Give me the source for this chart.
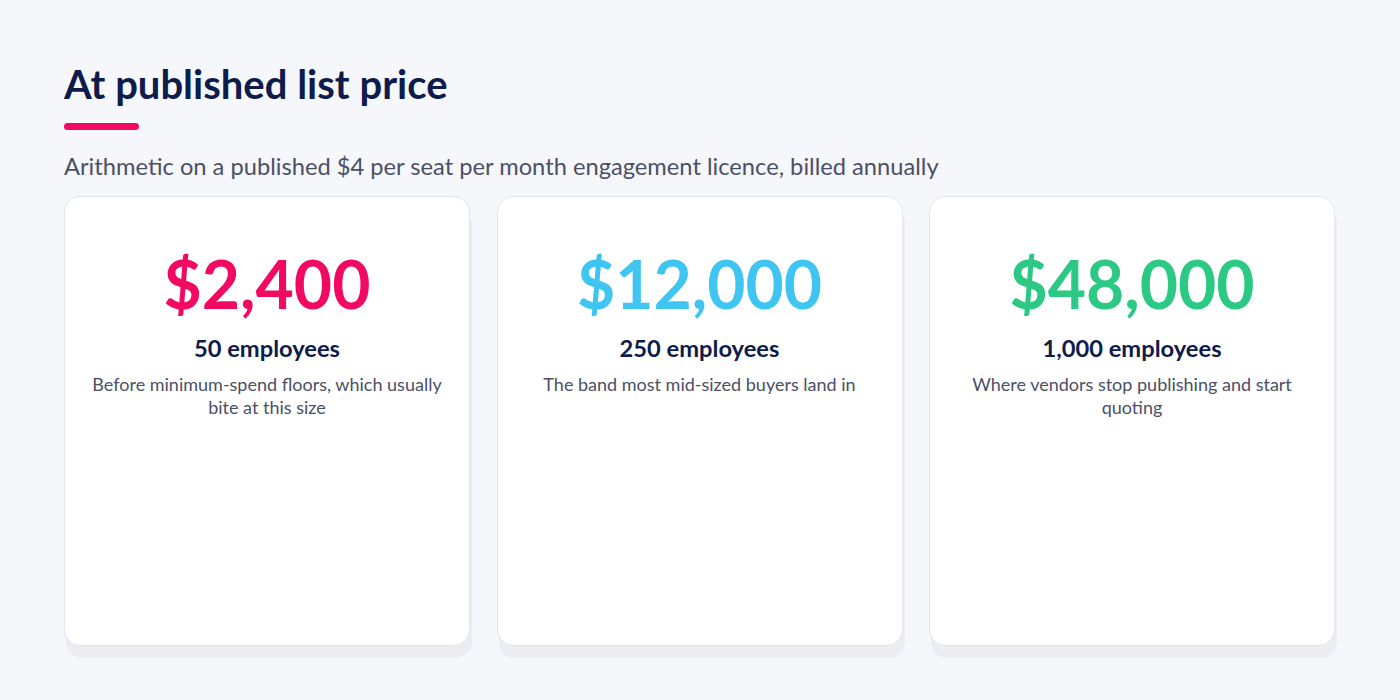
import React from 'react'

const amounts = ['$2,400', '$12,000', '$48,000']
const headcounts = ['50 employees', '250 employees', '1,000 employees']
const notes = [
  'Before minimum-spend floors, which usually bite at this size',
  'The band most mid-sized buyers land in',
  'Where vendors stop publishing and start quoting',
]
const accents = ['#f20a62', '#3ec5f1', '#2cc985']

const FONT = 'Lato, "Noto Sans", sans-serif'

function Card({ idx }: { idx: number }) {
  return (
    <div
      style={{
        position: 'absolute',
        left: 64 + idx * 432.5,
        top: 196,
        width: 406,
        height: 450,
        boxSizing: 'border-box',
        background: '#fff',
        border: '1.5px solid #e3e5ee',
        borderRadius: 16,
        boxShadow: '2px 12px 0 #ececf2',
        textAlign: 'center',
        padding: '0 24px',
      }}
    >
      <div
        style={{
          marginTop: 47,
          fontSize: 66,
          fontWeight: 700,
          lineHeight: '80px',
          color: accents[idx],
        }}
      >
        {amounts[idx]}
      </div>
      <div style={{ marginTop: 10, fontSize: 23.7, fontWeight: 700, color: '#0e1c4c', lineHeight: '28px' }}>
        {headcounts[idx]}
      </div>
      <div style={{ marginTop: 11, fontSize: 18, color: '#4b5066', lineHeight: '22.5px' }}>{notes[idx]}</div>
    </div>
  )
}

export default function App() {
  return (
    <div
      style={{
        position: 'absolute',
        left: 0,
        top: 0,
        width: 1400,
        height: 700,
        background: '#f6f7fb',
        fontFamily: FONT,
        overflow: 'hidden',
      }}
    >
      <div
        style={{ position: 'absolute', left: 64, top: 56, fontSize: 40, fontWeight: 700, color: '#0e1c4c', lineHeight: '56px' }}
      >
        At published list price
      </div>
      <div style={{ position: 'absolute', left: 64, top: 123, width: 75, height: 7, borderRadius: 4, background: '#f20a62' }} />
      <div style={{ position: 'absolute', left: 64, top: 151, fontSize: 23.7, color: '#4b5066', lineHeight: '30px' }}>
        Arithmetic on a published $4 per seat per month engagement licence, billed annually
      </div>
      {amounts.map((_, i) => (
        <Card key={i} idx={i} />
      ))}
    </div>
  )
}
